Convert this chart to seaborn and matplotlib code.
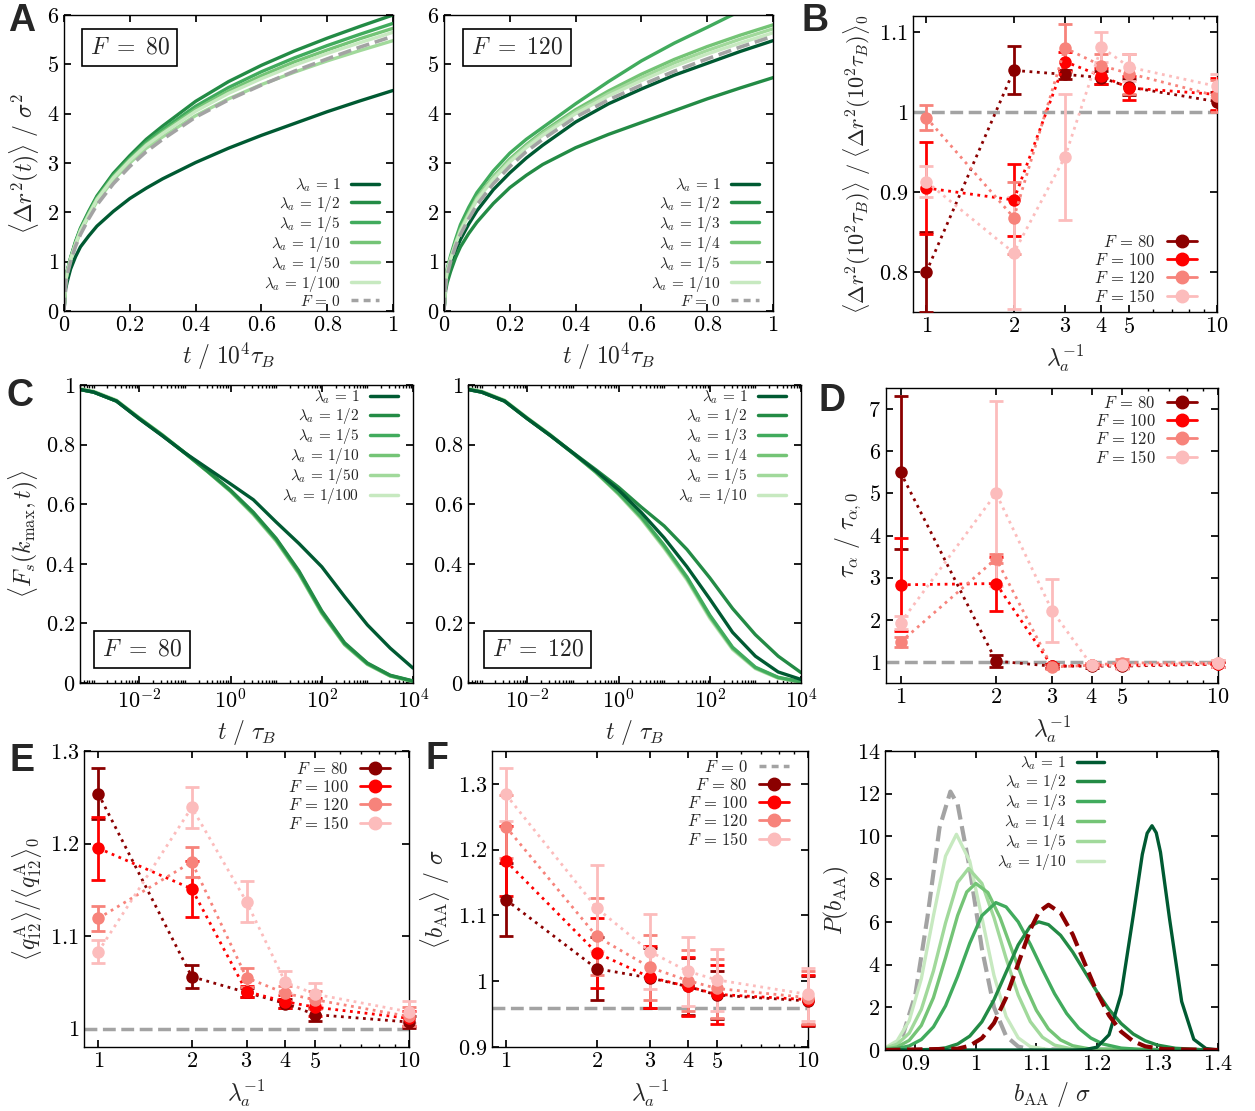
import numpy as np
import seaborn as sns
import matplotlib.pyplot as plt
from matplotlib.lines import Line2D
from matplotlib.ticker import FixedLocator, FuncFormatter, NullFormatter, LogLocator

# ---------------- data ----------------
lam_inv = [1, 2, 3, 4, 5, 10]
forces = ["80", "100", "120", "150"]

# A: mean squared displacement, t in units of 10^4 tau_B
t_msd = [0, 0.005, 0.01, 0.02, 0.035, 0.05, 0.075, 0.1, 0.15, 0.2, 0.25, 0.3,
         0.4, 0.5, 0.6, 0.7, 0.8, 0.9, 1.0]
msd_f0 = [0, 0.55, 0.74, 1.0, 1.31, 1.55, 1.87, 2.15, 2.58, 2.93, 3.23, 3.48,
          3.93, 4.28, 4.58, 4.86, 5.11, 5.35, 5.57]
lab_msd80 = ["1", "1/2", "1/5", "1/10", "1/50", "1/100"]
msd80 = [
    [0, 0.45, 0.6, 0.85, 1.1, 1.3, 1.52, 1.72, 2.02, 2.28, 2.49, 2.68, 3.01, 3.3, 3.56, 3.8, 4.04, 4.26, 4.47],
    [0, 0.6, 0.82, 1.08, 1.41, 1.68, 2.02, 2.33, 2.79, 3.15, 3.48, 3.75, 4.25, 4.65, 4.98, 5.27, 5.53, 5.77, 6.0],
    [0, 0.6, 0.81, 1.07, 1.39, 1.66, 1.99, 2.3, 2.75, 3.1, 3.42, 3.68, 4.15, 4.53, 4.85, 5.13, 5.38, 5.61, 5.83],
    [0, 0.59, 0.8, 1.06, 1.37, 1.64, 1.97, 2.28, 2.72, 3.07, 3.38, 3.63, 4.09, 4.46, 4.77, 5.05, 5.29, 5.52, 5.73],
    [0, 0.58, 0.78, 1.04, 1.34, 1.6, 1.92, 2.22, 2.66, 3.0, 3.3, 3.53, 3.96, 4.3, 4.59, 4.84, 5.07, 5.28, 5.48],
    [0, 0.59, 0.79, 1.05, 1.36, 1.63, 1.95, 2.26, 2.7, 3.05, 3.36, 3.6, 4.05, 4.41, 4.71, 4.98, 5.22, 5.44, 5.65],
]
lab_msd120 = ["1", "1/2", "1/3", "1/4", "1/5", "1/10"]
msd120 = [
    [0, 0.5, 0.7, 0.93, 1.22, 1.45, 1.76, 2.03, 2.46, 2.8, 3.1, 3.36, 3.83, 4.2, 4.5, 4.78, 5.02, 5.26, 5.48],
    [0, 0.42, 0.58, 0.8, 1.08, 1.3, 1.57, 1.8, 2.18, 2.5, 2.75, 2.97, 3.31, 3.58, 3.82, 4.06, 4.3, 4.52, 4.73],
    [0, 0.62, 0.86, 1.12, 1.45, 1.75, 2.1, 2.4, 2.84, 3.2, 3.48, 3.72, 4.2, 4.65, 5.07, 5.43, 5.75, 6.08, 6.4],
    [0, 0.6, 0.83, 1.07, 1.39, 1.66, 1.99, 2.3, 2.72, 3.08, 3.37, 3.63, 4.08, 4.46, 4.8, 5.1, 5.36, 5.59, 5.8],
    [0, 0.59, 0.82, 1.06, 1.37, 1.64, 1.97, 2.28, 2.7, 3.05, 3.34, 3.6, 4.04, 4.41, 4.73, 5.03, 5.28, 5.51, 5.72],
    [0, 0.58, 0.81, 1.05, 1.35, 1.62, 1.94, 2.25, 2.67, 3.02, 3.31, 3.56, 4.0, 4.36, 4.67, 4.96, 5.21, 5.43, 5.64],
]

# B: MSD ratio at 10^2 tau_B
b_val = [
    [0.80, 1.052, 1.047, 1.043, 1.031, 1.013],
    [0.905, 0.89, 1.063, 1.045, 1.03, 1.022],
    [0.993, 0.868, 1.08, 1.058, 1.048, 1.02],
    [0.913, 0.824, 0.944, 1.081, 1.056, 1.032],
]
b_err = [
    [0.05, 0.03, 0.006, 0.008, 0.01, 0.012],
    [0.057, 0.045, 0.012, 0.01, 0.015, 0.02],
    [0.016, 0.045, 0.03, 0.015, 0.025, 0.02],
    [0.019, 0.07, 0.079, 0.019, 0.017, 0.015],
]

# C: self-intermediate scattering function
t_fs = [5e-4, 1e-3, 3.16e-3, 1e-2, 3.16e-2, 0.1, 0.316, 1, 3.16, 10, 31.6, 100, 316, 1000, 3162, 1e4]
fs80 = [
    [0.985, 0.976, 0.946, 0.886, 0.83, 0.772, 0.72, 0.668, 0.615, 0.54, 0.468, 0.39, 0.29, 0.195, 0.117, 0.05],
    [0.985, 0.976, 0.946, 0.887, 0.831, 0.772, 0.711, 0.647, 0.573, 0.485, 0.376, 0.242, 0.135, 0.067, 0.026, 0.007],
    [0.985, 0.976, 0.946, 0.888, 0.832, 0.772, 0.71, 0.645, 0.57, 0.482, 0.372, 0.238, 0.132, 0.065, 0.025, 0.006],
    [0.985, 0.976, 0.946, 0.888, 0.832, 0.771, 0.709, 0.644, 0.568, 0.479, 0.369, 0.236, 0.13, 0.064, 0.024, 0.006],
    [0.987, 0.978, 0.948, 0.889, 0.833, 0.772, 0.709, 0.643, 0.566, 0.477, 0.367, 0.234, 0.129, 0.063, 0.024, 0.005],
    [0.988, 0.979, 0.949, 0.89, 0.834, 0.773, 0.709, 0.642, 0.565, 0.476, 0.366, 0.233, 0.128, 0.062, 0.023, 0.005],
]
fs120 = [
    [0.985, 0.976, 0.946, 0.887, 0.831, 0.772, 0.712, 0.648, 0.572, 0.487, 0.39, 0.282, 0.17, 0.09, 0.037, 0.012],
    [0.985, 0.976, 0.946, 0.887, 0.831, 0.773, 0.716, 0.657, 0.59, 0.527, 0.448, 0.353, 0.25, 0.162, 0.09, 0.035],
    [0.985, 0.976, 0.946, 0.887, 0.831, 0.771, 0.709, 0.638, 0.558, 0.462, 0.356, 0.228, 0.12, 0.053, 0.019, 0.004],
    [0.986, 0.977, 0.947, 0.888, 0.832, 0.771, 0.708, 0.636, 0.555, 0.458, 0.352, 0.224, 0.117, 0.051, 0.018, 0.004],
    [0.987, 0.978, 0.948, 0.889, 0.833, 0.771, 0.707, 0.634, 0.552, 0.455, 0.349, 0.221, 0.115, 0.05, 0.017, 0.003],
    [0.988, 0.979, 0.949, 0.89, 0.834, 0.772, 0.707, 0.633, 0.55, 0.452, 0.345, 0.217, 0.112, 0.048, 0.016, 0.003],
]

# D: relaxation time ratio
d_val = [
    [5.5, 1.02, 0.9, 0.9, 0.9, 0.95],
    [2.83, 2.86, 0.9, 0.92, 0.92, 0.95],
    [1.47, 3.45, 0.88, 0.92, 0.98, 0.97],
    [1.93, 5.0, 2.22, 0.92, 0.92, 0.97],
]
d_err = [
    [1.82, 0.15, 0.05, 0.05, 0.05, 0.06],
    [1.1, 0.64, 0.05, 0.05, 0.06, 0.06],
    [0.12, 0.1, 0.05, 0.05, 0.1, 0.08],
    [0.15, 2.2, 0.75, 0.05, 0.08, 0.08],
]

# E: bond order ratio
e_val = [
    [1.254, 1.056, 1.039, 1.027, 1.015, 1.007],
    [1.195, 1.151, 1.04, 1.029, 1.023, 1.011],
    [1.119, 1.18, 1.055, 1.038, 1.031, 1.013],
    [1.083, 1.239, 1.137, 1.05, 1.037, 1.018],
]
e_err = [
    [0.028, 0.0125, 0.005, 0.005, 0.007, 0.006],
    [0.034, 0.03, 0.006, 0.007, 0.01, 0.008],
    [0.0135, 0.016, 0.01, 0.008, 0.01, 0.01],
    [0.0125, 0.022, 0.022, 0.012, 0.012, 0.012],
]

# F: mean bond length
f_val = [
    [1.124, 1.019, 1.005, 0.992, 0.979, 0.97],
    [1.183, 1.043, 1.006, 0.992, 0.98, 0.972],
    [1.235, 1.068, 1.021, 1.001, 0.989, 0.975],
    [1.284, 1.111, 1.045, 1.015, 1.002, 0.98],
]
f_err = [
    [0.055, 0.048, 0.045, 0.043, 0.037, 0.038],
    [0.053, 0.053, 0.047, 0.045, 0.045, 0.038],
    [0.048, 0.058, 0.05, 0.047, 0.045, 0.04],
    [0.04, 0.065, 0.057, 0.052, 0.047, 0.04],
]
f_ref = 0.96

# bond length distributions
pb_gray_x = [0.85, 0.87, 0.88, 0.90, 0.92, 0.94, 0.958, 0.97, 0.99, 1.01, 1.03, 1.05, 1.07, 1.09, 1.40]
pb_gray_y = [0.0, 0.35, 0.74, 2.58, 6.2, 10.4, 12.1, 11.5, 8.5, 4.75, 2.0, 0.65, 0.16, 0.03, 0.0]
pb_red_x = [0.85, 0.97, 0.99, 1.01, 1.03, 1.05, 1.07, 1.09, 1.105, 1.12, 1.14, 1.16, 1.18, 1.20,
            1.22, 1.24, 1.26, 1.28, 1.31, 1.40]
pb_red_y = [0.0, 0.06, 0.2, 0.55, 1.26, 2.45, 4.04, 5.64, 6.49, 6.8, 6.42, 5.41, 4.05, 2.71,
            1.62, 0.86, 0.41, 0.17, 0.04, 0.0]
lab_pb = ["1", "1/2", "1/3", "1/4", "1/5", "1/10"]
pb_x = [
    [0.85, 1.16, 1.18, 1.20, 1.22, 1.24, 1.26, 1.275, 1.283, 1.291, 1.298, 1.305, 1.32, 1.34, 1.36, 1.38, 1.40],
    [0.85, 0.90, 0.93, 0.95, 0.97, 0.99, 1.01, 1.03, 1.05, 1.07, 1.09, 1.104, 1.12, 1.14, 1.16, 1.18,
     1.20, 1.22, 1.24, 1.26, 1.28, 1.30, 1.33, 1.37, 1.40],
    [0.85, 0.87, 0.89, 0.91, 0.93, 0.95, 0.97, 0.99, 1.01, 1.033, 1.05, 1.07, 1.09, 1.11, 1.13, 1.15,
     1.17, 1.19, 1.21, 1.24, 1.28, 1.40],
    [0.85, 0.87, 0.89, 0.91, 0.93, 0.95, 0.97, 0.985, 1.0, 1.02, 1.04, 1.06, 1.08, 1.10, 1.12, 1.14,
     1.16, 1.19, 1.40],
    [0.85, 0.87, 0.89, 0.91, 0.93, 0.95, 0.97, 0.988, 1.01, 1.03, 1.05, 1.07, 1.09, 1.11, 1.13, 1.16, 1.40],
    [0.85, 0.87, 0.89, 0.91, 0.93, 0.95, 0.968, 0.99, 1.01, 1.03, 1.05, 1.07, 1.09, 1.12, 1.40],
]
pb_y = [
    [0.0, 0.0, 0.015, 0.13, 0.71, 2.62, 6.29, 9.16, 10.15, 10.5, 10.17, 9.26, 6.14, 2.27, 0.5, 0.07, 0.0],
    [0.0, 0.005, 0.03, 0.1, 0.28, 0.65, 1.32, 2.35, 3.64, 4.92, 5.8, 6.0, 5.87, 5.37, 4.59, 3.66,
     2.73, 1.9, 1.24, 0.75, 0.43, 0.23, 0.08, 0.02, 0.0],
    [0.02, 0.07, 0.19, 0.49, 1.08, 2.07, 3.45, 5.0, 6.29, 6.9, 6.7, 6.0, 4.95, 3.77, 2.64, 1.71,
     1.02, 0.56, 0.28, 0.09, 0.01, 0.0],
    [0.04, 0.14, 0.45, 1.15, 2.45, 4.32, 6.3, 7.4, 7.8, 7.37, 6.2, 4.65, 3.11, 1.86, 0.98, 0.47,
     0.2, 0.04, 0.0],
    [0.08, 0.27, 0.79, 1.9, 3.7, 5.95, 7.85, 8.5, 7.8, 6.2, 4.29, 2.57, 1.33, 0.6, 0.23, 0.04, 0.0],
    [0.1, 0.43, 1.37, 3.34, 6.28, 9.08, 10.1, 8.84, 6.2, 3.49, 1.57, 0.57, 0.16, 0.02, 0.0],
]

greens = ["#005a32", "#238b45", "#41ab5d", "#74c476", "#a1d99b", "#c7e9c0"]
reds = ["#8b0000", "#ff0000", "#f7837b", "#fcbcbc"]
gray = "#a3a3a3"

# ---------------- style ----------------
sns.set_theme(style="ticks")
plt.rcParams.update({
    "font.family": "serif",
    "font.serif": ["cmr10", "DejaVu Serif"],
    "mathtext.fontset": "cm",
    "axes.formatter.use_mathtext": True,
    "axes.edgecolor": "black",
    "axes.linewidth": 1.0,
    "xtick.color": "black",
    "ytick.color": "black",
    "xtick.direction": "in",
    "ytick.direction": "in",
    "xtick.top": True,
    "ytick.right": True,
    "xtick.major.size": 5,
    "ytick.major.size": 5,
    "xtick.minor.size": 2.5,
    "ytick.minor.size": 2.5,
    "xtick.labelsize": 16,
    "ytick.labelsize": 16,
    "axes.labelsize": 17,
    "legend.fontsize": 12,
})

W, H = 1255, 1111
fig = plt.figure(figsize=(W / 100, H / 100), dpi=100)


def add_ax(l, t, r, b):
    return fig.add_axes([l / W, 1 - b / H, (r - l) / W, (b - t) / H])


gfmt = FuncFormatter(lambda v, p: f"${v:g}$")


def lam_axis(ax):
    ax.set_xscale("log")
    ax.set_xlim(0.9, 10)
    ax.xaxis.set_major_locator(FixedLocator(lam_inv))
    ax.xaxis.set_major_formatter(gfmt)
    ax.xaxis.set_minor_locator(FixedLocator([6, 7, 8, 9]))
    ax.xaxis.set_minor_formatter(NullFormatter())
    ax.set_xlabel(r"$\lambda_a^{-1}$")


LEG = dict(markerfirst=False, frameon=False, handlelength=1.8, handletextpad=0.7,
           borderaxespad=0.0)


def green_legend(ax, labels, with_f0, **kw):
    hs = [Line2D([], [], color=c, lw=2.5) for c in greens[:len(labels)]]
    ls = [rf"$\lambda_a\,=\,{l}$" for l in labels]
    if with_f0:
        hs.append(Line2D([], [], color=gray, lw=2.5, ls="--", dashes=(2, 1.5)))
        ls.append(r"$F\,=\,0$")
    ax.legend(hs, ls, labelspacing=0.0, fontsize=11, borderpad=0.25, **LEG, **kw)


def red_panel(ax, vals, errs, clip=True, f0=False, **kw):
    for y, e, c in zip(vals, errs, reds):
        ax.errorbar(lam_inv, y, yerr=e, fmt="none", ecolor=c, elinewidth=2,
                    capsize=5, capthick=2, clip_on=clip, zorder=3)
        sns.lineplot(x=lam_inv, y=y, ax=ax, color=c, linestyle=":", linewidth=2,
                     marker="o", markersize=9, markeredgecolor=c,
                     markeredgewidth=0, clip_on=clip, zorder=4)
    hs = [Line2D([], [], color=c, lw=2, marker="o", ms=9) for c in reds]
    ls = [rf"$F\,=\,{f}$" for f in forces]
    if f0:
        hs.insert(0, Line2D([], [], color=gray, lw=2.5, ls="--", dashes=(2, 1.5)))
        ls.insert(0, r"$F\,=\,0$")
    ax.legend(hs, ls, labelspacing=0.12, **LEG, **kw)


def box_label(ax, x, y, text):
    ax.text(x, y, text, transform=ax.transAxes, ha="center", va="center", fontsize=17,
            bbox=dict(boxstyle="square,pad=0.32", fc="white", ec="black", lw=1.2))


def letter(x, y, s):
    fig.text(x / W, 1 - y / H, s, fontsize=27, fontweight="bold",
             family="Liberation Sans", ha="left", va="top")


# ---------------- A ----------------
for rect, series, labs, name in [((64, 15, 393, 311), msd80, lab_msd80, "80"),
                                 ((444, 15, 773, 311), msd120, lab_msd120, "120")]:
    ax = add_ax(*rect)
    for y, c in zip(series, greens):
        sns.lineplot(x=t_msd, y=y, ax=ax, color=c, linewidth=2.4)
    sns.lineplot(x=t_msd, y=msd_f0, ax=ax, color=gray, linewidth=2.6,
                 linestyle="--", dashes=(2, 1.5))
    ax.set_xlim(0, 1)
    ax.set_ylim(0, 6)
    ax.set_xticks([0, 0.2, 0.4, 0.6, 0.8, 1.0])
    ax.set_yticks(range(7))
    ax.xaxis.set_major_formatter(gfmt)
    ax.yaxis.set_major_formatter(gfmt)
    ax.set_xlabel(r"$t\ /\ 10^4\tau_B$")
    if name == "80":
        ax.set_ylabel(r"$\langle\Delta r^2(t)\rangle\ /\ \sigma^2$")
    box_label(ax, 0.2 if name == "80" else 0.222, 0.89, rf"$F\ =\ {name}$")
    green_legend(ax, labs, True, loc="lower right", bbox_to_anchor=(0.968, -0.005))

# ---------------- B ----------------
ax = add_ax(913, 16, 1217, 312)
ax.axhline(1.0, color=gray, ls="--", lw=2.5, zorder=1)
red_panel(ax, b_val, b_err, clip=True, loc="lower right", bbox_to_anchor=(0.955, 0.0))
lam_axis(ax)
ax.set_ylim(0.75, 1.12)
ax.set_yticks([0.8, 0.9, 1.0, 1.1])
ax.yaxis.set_major_formatter(gfmt)
ax.set_ylabel(r"$\langle\Delta r^2(10^2\tau_B)\rangle\ /\ \langle\Delta r^2(10^2\tau_B)\rangle_0$",
              fontsize=16)

# ---------------- C ----------------
for rect, series, labs, name, bx in [((80, 385, 413, 683), fs80, lab_msd80, "80", 0.186),
                                     ((468, 385, 801, 683), fs120, lab_msd120, "120", 0.209)]:
    ax = add_ax(*rect)
    for y, c in list(zip(series, greens))[::-1]:
        sns.lineplot(x=t_fs, y=y, ax=ax, color=c, linewidth=2.4)
    ax.set_xscale("log")
    ax.set_xlim(5e-4, 1e4)
    ax.set_ylim(0, 1)
    ax.xaxis.set_major_locator(FixedLocator([1e-2, 1, 1e2, 1e4]))
    ax.xaxis.set_minor_locator(LogLocator(base=10, subs=np.arange(1, 10), numticks=30))
    ax.xaxis.set_minor_formatter(NullFormatter())
    ax.set_yticks([0, 0.2, 0.4, 0.6, 0.8, 1.0])
    ax.yaxis.set_major_formatter(gfmt)
    ax.set_xlabel(r"$t\ /\ \tau_B$")
    if name == "80":
        ax.set_ylabel(r"$\langle F_s(k_{\rm max}, t)\rangle$")
    box_label(ax, bx, 0.113, rf"$F\ =\ {name}$")
    green_legend(ax, labs, False, loc="upper right", bbox_to_anchor=(0.965, 1.0))

# ---------------- D ----------------
ax = add_ax(886, 388, 1218, 683)
ax.axhline(1.0, color=gray, ls="--", lw=2.5, zorder=1)
red_panel(ax, d_val, d_err, clip=False, loc="upper right", bbox_to_anchor=(0.957, 1.0))
lam_axis(ax)
ax.set_ylim(0.5, 7.5)
ax.set_yticks(range(1, 8))
ax.yaxis.set_major_formatter(gfmt)
ax.set_ylabel(r"$\tau_\alpha\ /\ \tau_{\alpha,0}$")

# ---------------- E ----------------
ax = add_ax(84, 751, 409, 1047)
ax.axhline(1.0, color=gray, ls="--", lw=2.5, zorder=1)
red_panel(ax, e_val, e_err, clip=False, loc="upper right", bbox_to_anchor=(0.962, 0.99))
lam_axis(ax)
ax.set_ylim(0.98, 1.3)
ax.set_yticks([1.0, 1.1, 1.2, 1.3])
ax.yaxis.set_major_formatter(gfmt)
ax.set_ylabel(r"$\langle q_{12}^{\rm A}\rangle / \langle q_{12}^{\rm A}\rangle_0$")

# ---------------- F ----------------
ax = add_ax(492, 751, 808, 1047)
ax.axhline(f_ref, color=gray, ls="--", lw=2.5, zorder=1)
red_panel(ax, f_val, f_err, clip=False, f0=True, loc="upper right", bbox_to_anchor=(0.962, 0.995))
lam_axis(ax)
ax.set_ylim(0.9, 1.35)
ax.set_yticks([0.9, 1.0, 1.1, 1.2, 1.3])
ax.yaxis.set_major_formatter(gfmt)
ax.set_ylabel(r"$\langle b_{\rm AA}\rangle\ /\ \sigma$")

# ---------------- bond length distribution ----------------
ax = add_ax(885, 751, 1218, 1050)
sns.lineplot(x=pb_gray_x, y=pb_gray_y, ax=ax, color=gray, linewidth=3,
             linestyle="--", dashes=(2, 1.5))
for xs, ys, c in list(zip(pb_x, pb_y, greens))[::-1]:
    sns.lineplot(x=xs, y=ys, ax=ax, color=c, linewidth=2.4)
sns.lineplot(x=pb_red_x, y=pb_red_y, ax=ax, color=reds[0], linewidth=3,
             linestyle="--", dashes=(2, 1.5))
ax.set_xlim(0.85, 1.4)
ax.set_ylim(0, 14)
ax.set_xticks([0.9, 1.0, 1.1, 1.2, 1.3, 1.4])
ax.set_yticks(range(0, 15, 2))
ax.xaxis.set_major_formatter(gfmt)
ax.yaxis.set_major_formatter(gfmt)
ax.set_xlabel(r"$b_{\rm AA}\ /\ \sigma$")
ax.set_ylabel(r"$P(b_{\rm AA})$")
green_legend(ax, lab_pb, False, loc="upper right", bbox_to_anchor=(0.67, 1.0))

letter(8, 3, "A")
letter(801, 3, "B")
letter(6, 378, "C")
letter(819, 383, "D")
letter(9, 743, "E")
letter(426, 741, "F")

fig.savefig("out.png", dpi=100)
